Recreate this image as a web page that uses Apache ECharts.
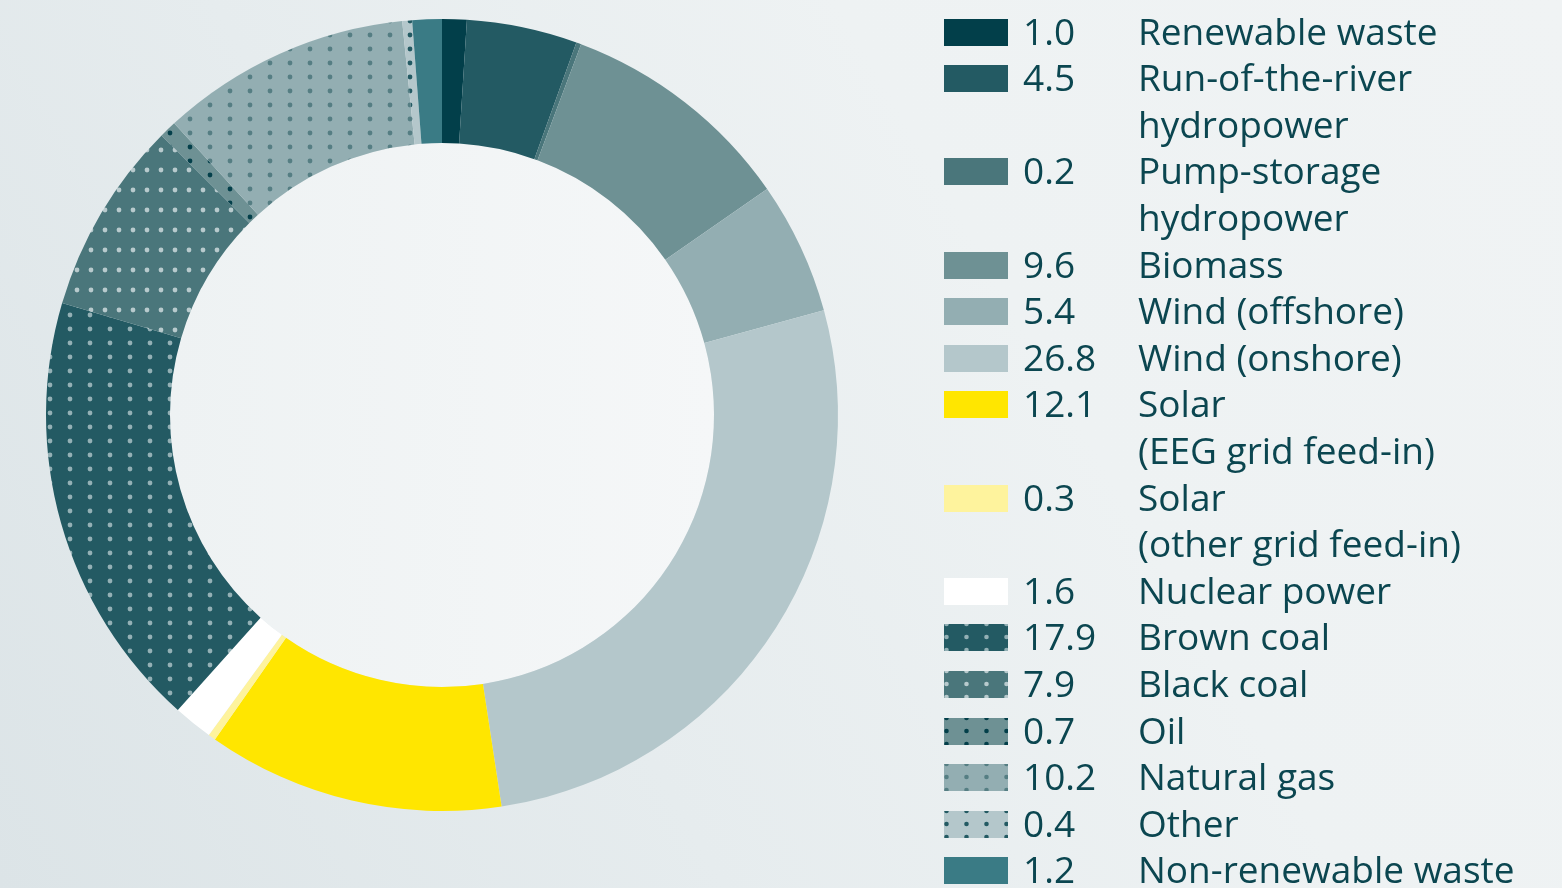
<!DOCTYPE html>
<html>
<head>
<meta charset="utf-8">
<title>Electricity generation mix</title>
<script src="https://cdn.jsdelivr.net/npm/echarts@6/dist/echarts.min.js"></script>
<style>
  html, body { margin: 0; padding: 0; width: 1562px; height: 888px; overflow: hidden; }
  #chart {
    width: 1562px; height: 888px;
    background: linear-gradient(60deg, #dce4e7 0%, #e6ecee 35%, #eef2f3 65%, #f0f3f4 100%);
  }
</style>
</head>
<body>
<div id="chart"></div>
<script>
// Energy sources, in drawing order (clockwise from the top)
const sourceNames = [
  'Renewable waste',
  'Run-of-the-river\nhydropower',
  'Pump-storage\nhydropower',
  'Biomass',
  'Wind (offshore)',
  'Wind (onshore)',
  'Solar\n(EEG grid feed-in)',
  'Solar\n(other grid feed-in)',
  'Nuclear power',
  'Brown coal',
  'Black coal',
  'Oil',
  'Natural gas',
  'Other',
  'Non-renewable waste'
];

// Share of gross generation, per cent
const shares = [1.0, 4.5, 0.2, 9.6, 5.4, 26.8, 12.1, 0.3, 1.6, 17.9, 7.9, 0.7, 10.2, 0.4, 1.2];

// ---- styling ----
const baseColors = [
  '#023f4a', '#235a63', '#4a767b', '#6e9194', '#93aeb2', '#b4c7cb',
  '#ffe600', '#fef39d', '#ffffff',
  '#235a63', '#4a767b', '#6e9194', '#93aeb2', '#b4c7cb', '#3a7b85'
];
// dot colour for the fossil sources (null = plain fill)
const dotColors = [
  null, null, null, null, null, null, null, null, null,
  '#93b0b5', '#b8cacd', '#033f4a', '#557e83', '#235a63', null
];
const turnedDots = [false, false, false, false, false, false, false, false, false,
  false, true, false, false, false, false];

const TEXT_COLOR = '#0b4650';
const FONT_FAMILY = '"Open Sans", sans-serif';
const FONT_SIZE = 37;
const TEXT_SHIFT = 2;

function dotPattern(bg, dot, w, h, cx, cy, wrapY, r) {
  const c = document.createElement('canvas');
  c.width = w; c.height = h;
  const g = c.getContext('2d');
  g.fillStyle = bg;
  g.fillRect(0, 0, w, h);
  g.fillStyle = dot;
  const pts = wrapY ? [[cx, cy], [cx, cy + h]] : [[cx, cy]];
  pts.forEach(([x, y]) => {
    g.beginPath();
    g.arc(x, y, r, 0, Math.PI * 2);
    g.fill();
  });
  return { image: c, repeat: 'repeat' };
}

function ringFill(i) {
  if (!dotColors[i]) return baseColors[i];
  return turnedDots[i]
    ? dotPattern(baseColors[i], dotColors[i], 14, 20, 7, 10, false, 2.4)
    : dotPattern(baseColors[i], dotColors[i], 20, 14, 10, 7, false, 2.4);
}

function swatchFill(i) {
  if (!dotColors[i]) return baseColors[i];
  return dotPattern(baseColors[i], dotColors[i], 20, 13, 2.5, 0, true, 2.3);
}

const ringData = sourceNames.map((n, i) => ({
  name: n.replace('\n', ' '),
  value: shares[i],
  itemStyle: { color: ringFill(i) }
}));

// ---- legend block (swatch, value, name) ----
const LEG_X = 944, VAL_X = 1023, NAME_X = 1138;
const ROW0 = 32, PITCH = 46.6;
const SW_W = 64, SW_H = 27;

const legendGraphics = [];
let row = 0;
sourceNames.forEach((n, i) => {
  const lines = n.split('\n');
  const cy = ROW0 + row * PITCH;
  legendGraphics.push({
    type: 'group', x: LEG_X, y: Math.round(cy - SW_H / 2), silent: true,
    children: [{ type: 'rect', shape: { x: 0, y: 0, width: SW_W, height: SW_H }, style: { fill: swatchFill(i) } }]
  });
  legendGraphics.push({
    type: 'text', x: VAL_X, y: cy + TEXT_SHIFT, silent: true,
    style: {
      text: shares[i].toFixed(1), fill: TEXT_COLOR,
      fontFamily: FONT_FAMILY, fontSize: FONT_SIZE,
      align: 'left', verticalAlign: 'middle'
    }
  });
  lines.forEach((ln, k) => {
    legendGraphics.push({
      type: 'text', x: NAME_X, y: cy + k * PITCH + TEXT_SHIFT, silent: true,
      style: {
        text: ln, fill: TEXT_COLOR,
        fontFamily: FONT_FAMILY, fontSize: FONT_SIZE,
        align: 'left', verticalAlign: 'middle'
      }
    });
  });
  row += lines.length;
});

const chart = echarts.init(document.getElementById('chart'), null, { renderer: 'canvas' });
chart.setOption({
  backgroundColor: 'transparent',
  animation: false,
  series: [
    {
      // pale disc inside the ring
      type: 'pie',
      silent: true,
      center: [442, 415],
      radius: [0, 272],
      label: { show: false },
      labelLine: { show: false },
      data: [{
        value: 1,
        itemStyle: {
          color: new echarts.graphic.LinearGradient(0, 0, 1, 0, [
            { offset: 0, color: '#eef2f3' },
            { offset: 1, color: '#f5f7f8' }
          ])
        }
      }]
    },
    {
      type: 'pie',
      center: [442, 415],
      radius: [272, 396],
      startAngle: 90,
      clockwise: true,
      avoidLabelOverlap: false,
      label: { show: false },
      labelLine: { show: false },
      emphasis: { disabled: true },
      itemStyle: { borderWidth: 0 },
      data: ringData
    }
  ],
  graphic: legendGraphics
});
</script>
</body>
</html>
